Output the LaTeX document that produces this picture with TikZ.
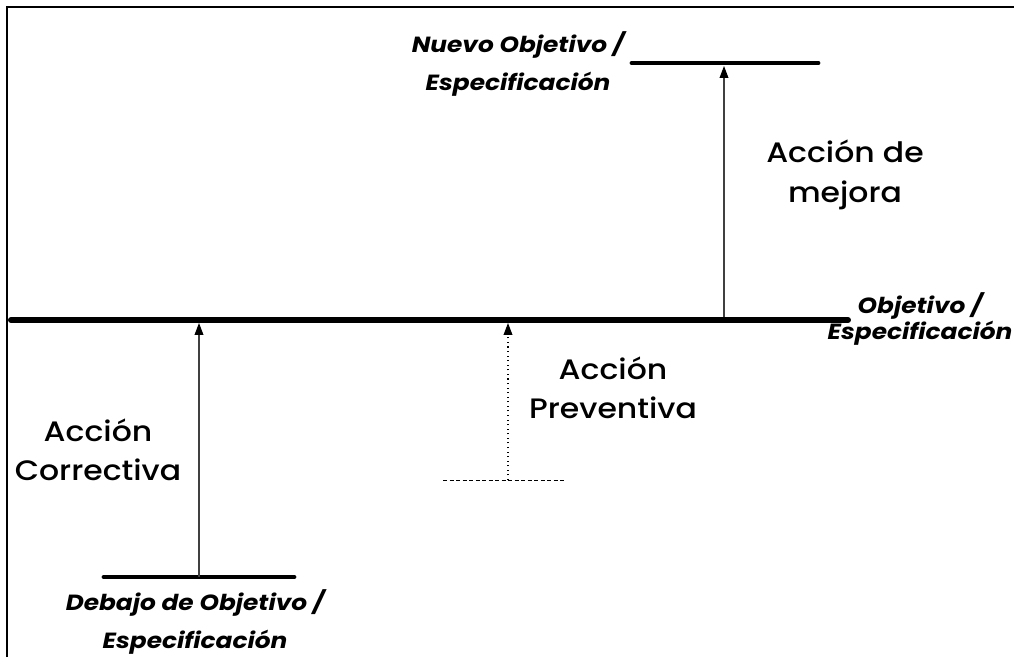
\documentclass[tikz,border=0pt]{standalone}
\usepackage{fontspec}
\setmainfont{Poppins}
\newfontfamily\medio{Poppins Medium}[FakeStretch=1.12]
\newfontfamily\etiq{Poppins}[FakeStretch=1.13]
\usetikzlibrary{arrows.meta}
\tikzset{
  nivel/.style={line width=2.8pt,line cap=round},
  accion/.style={black!75,line width=0.6pt,-{Triangle[length=6.8pt,width=5pt,black]}},
  grande/.style={align=center,inner sep=0pt,font=\medio\fontsize{16}{22.5}\selectfont},
  chica/.style={align=center,inner sep=0pt,font=\etiq\fontsize{12.5}{21.5}\selectfont\bfseries\itshape}
}

\begin{document}
\begin{tikzpicture}[x=0.02cm,y=-0.02cm]
  \useasboundingbox (0,0) rectangle (1014,657);
  \draw[line width=1.1pt] (7,657) -- (7,7) -- (1014,7);% frame

  % target levels
  \draw[nivel,line width=3.4pt] (11,320) coordinate (obj-l) -- (848,320) coordinate (obj-r);
  \draw[nivel] (632,63) coordinate (nuevo-l) -- (818,63) coordinate (nuevo-r);
  \draw[nivel] (104,577) coordinate (bajo-l) -- (294,577) coordinate (bajo-r);
  \draw[thin,dash pattern=on 2.5pt off 1.2pt] (443,480) coordinate (prev-l) -- (565,480) coordinate (prev-r);

  % arrow ends
  \coordinate (corr-a) at (199,577);
  \coordinate (corr-b) at (199,323);
  \coordinate (prev-a) at (508,480);
  \coordinate (prev-b) at (508,323);
  \coordinate (mej-a) at (724,317);
  \coordinate (mej-b) at (724,66);

  \draw[accion] (corr-a) -- (corr-b);
  \draw[accion,black,dotted] (prev-a) -- (prev-b);
  \draw[accion] (mej-a) -- (mej-b);

  % labels
  \node[grande] (correctiva) at (98,450) {Acción\\Correctiva};
  \node[grande] (preventiva) at (613,388) {Acción\\Preventiva};
  \node[grande] (mejora) at (845,175) {Acción de\\mejora};
  \node[chica] (nuevo) at (518,64) {Nuevo Objetivo /\\Especificación};
  \node[chica,font=\etiq\fontsize{12.5}{12.5}\selectfont\bfseries\itshape] (objetivo) at (920,319) {Objetivo /\\Especificación};
  \node[chica] (debajo) at (195,622) {Debajo de Objetivo /\\Especificación};
\end{tikzpicture}
\end{document}
